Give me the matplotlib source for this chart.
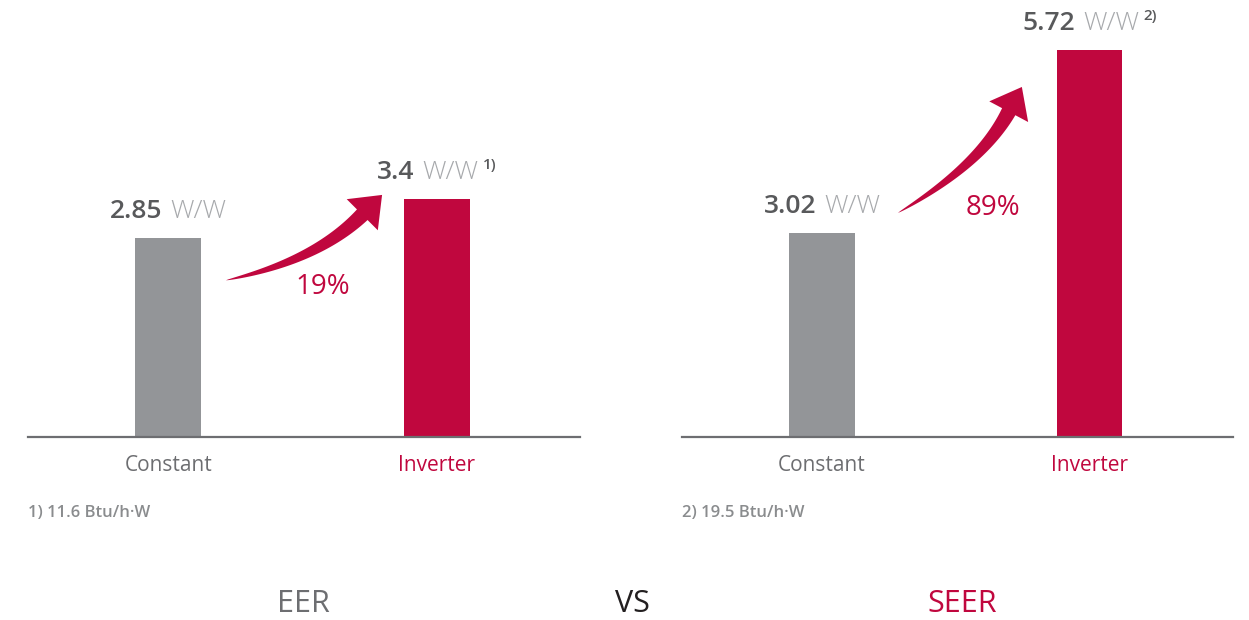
import matplotlib
matplotlib.use('Agg')
import matplotlib.pyplot as plt
import numpy as np
from matplotlib.patches import Polygon
from matplotlib.transforms import IdentityTransform, ScaledTranslation

plt.rcParams['font.family'] = ['Open Sans', 'DejaVu Sans']

categories = ['Constant', 'Inverter']
eer = [2.85, 3.4]
seer = [3.02, 5.72]
value_text = [['2.85', '3.4'], ['3.02', '5.72']]
unit = 'W/W'
notes = ['1)', '2)']
footnotes = ['1) 11.6 Btu/h·W', '2) 19.5 Btu/h·W']
gains = ['19%', '89%']
titles = ['EER', 'VS', 'SEER']

GRAY = '#939598'
RED = '#c0073e'
DARK = '#58595b'
LIGHT = '#a7a9ac'
AXIS = '#6d6e71'

fig = plt.figure(figsize=(12.49, 6.2), dpi=100)
axes = [fig.add_axes([0.0224, 0.2952, 0.442, 0.677]),
        fig.add_axes([0.546, 0.2952, 0.441, 0.677])]
renderer = fig.canvas.get_renderer()
x = np.arange(len(categories))


def rich_label(ax, xv, yv, parts, lift=20):
    # parts: (text, color, size, weight, rise_px, gap_px_before); group centred on xv
    texts = [ax.text(xv, yv, p[0], color=p[1], fontsize=p[2], fontweight=p[3],
                     ha='left', va='baseline') for p in parts]
    widths = [t.get_window_extent(renderer).width for t in texts]
    off = -(sum(widths) + sum(p[5] for p in parts)) / 2
    for t, w, p in zip(texts, widths, parts):
        off += p[5]
        t.set_transform(ax.transData + ScaledTranslation(
            off / fig.dpi, (lift + p[4]) / fig.dpi, fig.dpi_scale_trans))
        off += w


def curved_arrow(ax, start, end, a0, a1, body=15, head_len=28, head_w=44):
    # tapered curved arrow; a0/a1 are tangent angles at tail and head
    p0 = ax.transData.transform(start)
    tip = ax.transData.transform(end)
    d0 = np.array([np.cos(np.radians(a0)), np.sin(np.radians(a0))])
    d1 = np.array([np.cos(np.radians(a1)), np.sin(np.radians(a1))])
    p2 = tip - d1 * head_len
    t, s = np.linalg.solve(np.column_stack([d0, d1]), p2 - p0)
    c = p0 + t * d0
    u = np.linspace(0, 1, 80)[:, None]
    pts = (1 - u) ** 2 * p0 + 2 * (1 - u) * u * c + u ** 2 * p2
    der = 2 * (1 - u) * (c - p0) + 2 * u * (p2 - c)
    nrm = np.column_stack([-der[:, 1], der[:, 0]])
    nrm /= np.linalg.norm(nrm, axis=1)[:, None]
    w = (body / 2) * u[:, 0] ** 0.7
    upper = pts + nrm * w[:, None]
    lower = pts - nrm * w[:, None]
    n1 = np.array([-d1[1], d1[0]])
    head = np.array([p2 + n1 * head_w / 2, tip, p2 - n1 * head_w / 2])
    poly = np.vstack([upper, head, lower[::-1]])
    fig.add_artist(Polygon(poly, closed=True, transform=IdentityTransform(),
                           facecolor=RED, edgecolor='none'))


panels = [
    (axes[0], eer, 6.0, (0.215, 2.24), (0.797, 3.46), 12, 45, (0.577, 2.04)),
    (axes[1], seer, 6.2, (0.284, 3.31), (0.747, 5.17), 30, 62, (0.639, 3.28)),
]

for i, (ax, vals, top, a_start, a_end, ang0, ang1, gain_xy) in enumerate(panels):
    ax.bar(x, vals, 0.246, color=[GRAY, RED])
    ax.set_xlim(-0.523, 1.535)
    ax.set_ylim(0, top)
    for side in ['top', 'right', 'left']:
        ax.spines[side].set_visible(False)
    ax.spines['bottom'].set_color(AXIS)
    ax.spines['bottom'].set_linewidth(1.6)
    ax.set_yticks([])
    ax.set_xticks(x, categories)
    ax.tick_params(axis='x', length=0, pad=13, labelsize=15)
    for lbl, col in zip(ax.get_xticklabels(), [AXIS, RED]):
        lbl.set_color(col)

    rich_label(ax, x[0], vals[0], [(value_text[i][0], DARK, 19, 'semibold', 0, 0),
                                   (unit, LIGHT, 19, 'light', 0, 8)])
    rich_label(ax, x[1], vals[1], [(value_text[i][1], DARK, 19, 'semibold', 0, 0),
                                   (unit, LIGHT, 19, 'light', 0, 8),
                                   (notes[i], DARK, 11, 'semibold', 10, 4)])

    curved_arrow(ax, a_start, a_end, ang0, ang1)
    ax.text(gain_xy[0], gain_xy[1], gains[i], color=RED, fontsize=20,
            fontweight='normal', ha='center', va='baseline')

fig.text(28 / 1249, 1 - 513 / 620, footnotes[0], color='#8a8c8e', fontsize=12,
         fontweight='semibold', ha='left', va='center')
fig.text(682 / 1249, 1 - 513 / 620, footnotes[1], color='#8a8c8e', fontsize=12,
         fontweight='semibold', ha='left', va='center')

for t, xp, col in zip(titles, [303, 632, 962], [AXIS, '#231f20', RED]):
    fig.text(xp / 1249, 1 - 604 / 620, t, color=col, fontsize=22,
             ha='center', va='center')

fig.savefig('out.png', dpi=100)
